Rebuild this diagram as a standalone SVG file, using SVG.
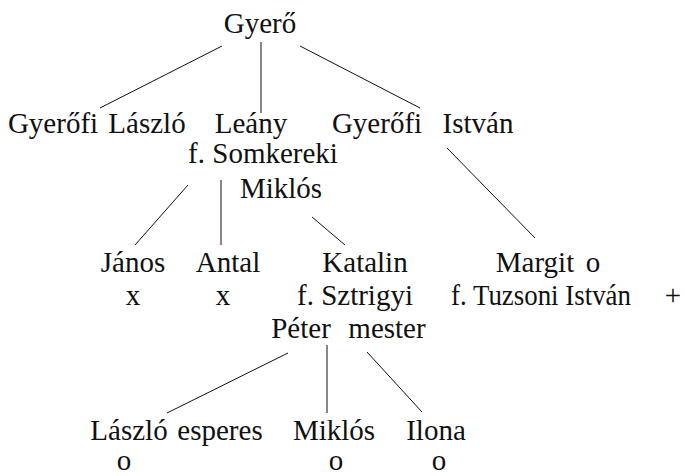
<svg xmlns="http://www.w3.org/2000/svg" width="685" height="476" viewBox="0 0 685 476">
<style>
text{font-family:"Liberation Serif","Times New Roman",serif;font-size:29px;fill:#111;text-anchor:middle}
text.s{text-anchor:start}
.c line{stroke:#111;stroke-width:1}
</style>
<rect width="685" height="476" fill="#fff"/>
<g class="c" id="connectors">
<line x1="222" y1="46" x2="100" y2="108"/>
<line x1="261" y1="42" x2="261" y2="113"/>
<line x1="300" y1="46" x2="420" y2="108"/>
<line x1="188" y1="185" x2="135" y2="245"/>
<line x1="221" y1="180" x2="221" y2="245"/>
<line x1="312" y1="217" x2="345" y2="245"/>
<line x1="447" y1="148" x2="535" y2="238"/>
<line x1="288" y1="353" x2="167" y2="413"/>
<line x1="327" y1="345" x2="327" y2="413"/>
<line x1="367" y1="352" x2="422" y2="412"/>
</g>
<g id="gyero"><text x="260" y="33">Gyerő</text></g>
<g id="gyerofi-laszlo"><text x="53" y="133">Gyerőfi</text><text x="147" y="133">László</text></g>
<g id="leany"><text x="251" y="133">Leány</text><text x="263" y="163">f. Somkereki</text><text x="281" y="198">Miklós</text></g>
<g id="gyerofi-istvan"><text x="377" y="133">Gyerőfi</text><text x="478" y="133">István</text></g>
<g id="janos"><text x="133" y="272">János</text><text x="133" y="305">x</text></g>
<g id="antal"><text x="228" y="272">Antal</text><text x="223" y="305">x</text></g>
<g id="katalin"><text x="365" y="272">Katalin</text><text x="355" y="305">f. Sztrigyi</text><text x="301" y="338">Péter</text><text x="387" y="338">mester</text></g>
<g id="margit"><text x="535" y="272">Margit</text><text x="593" y="272">o</text><text class="s" x="451" y="305" textLength="180" lengthAdjust="spacingAndGlyphs">f. Tuzsoni István</text><text x="673" y="305">+</text></g>
<g id="laszlo-esperes"><text x="129" y="440">László</text><text x="220" y="440">esperes</text><text x="124" y="470">o</text></g>
<g id="miklos"><text x="334" y="440">Miklós</text><text x="336" y="470">o</text></g>
<g id="ilona"><text x="436" y="440">Ilona</text><text x="439" y="470">o</text></g>
</svg>
